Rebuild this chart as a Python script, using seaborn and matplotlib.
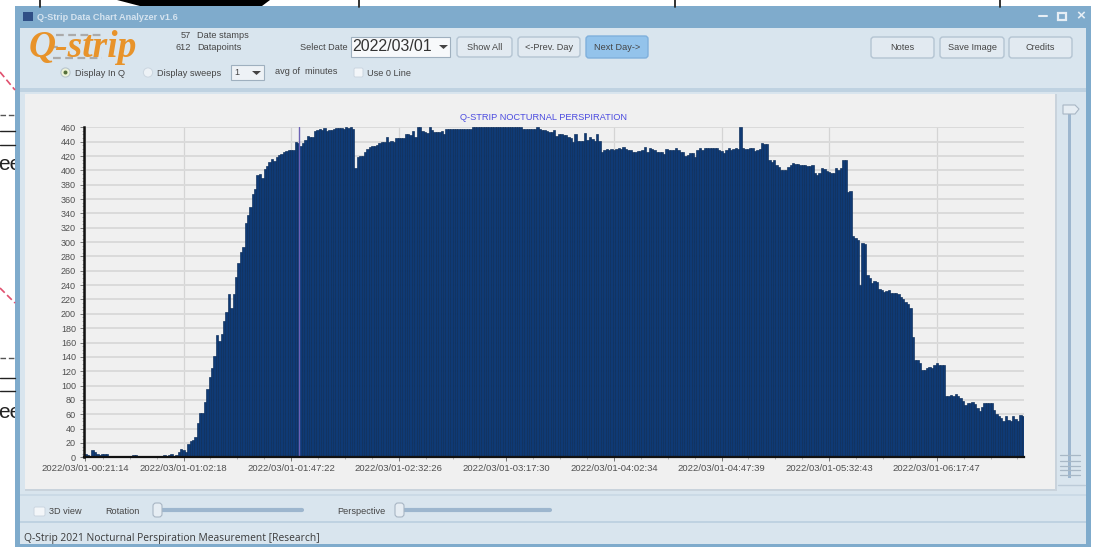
import matplotlib
matplotlib.use("Agg")
import matplotlib.pyplot as plt
import numpy as np
import seaborn as sns
from matplotlib.patches import FancyBboxPatch, Rectangle, Circle, Polygon
from matplotlib.ticker import MultipleLocator

# values, one bar per minute
rise = [5, 3, 0, 10, 8, 4, 3, 4, 5, 4, 2, 2, 1, 0, 0, 0, 0, 1, 1, 0, 3, 3,
        0, 0, 0, 0, 0, 0, 0, 0, 0, 0, 2, 3, 2, 3, 4, 1, 3,
        7, 12, 10, 8, 18, 23, 24, 28, 48, 62, 62, 77, 95, 112, 125, 141, 170, 162, 172, 190,
        202, 227, 208, 228, 252, 271, 286, 293, 327, 338, 349, 367, 374, 394, 395, 390, 402,
        406, 412, 416, 413, 418, 421, 423, 425, 427, 429, 429, 428, 439, 438, 434, 438, 442,
        448, 447, 446, 455, 456, 457, 456, 459, 455, 456, 456, 457, 459, 459, 459, 458, 460,
        459, 460, 457]
plateau = [403, 418, 420, 420, 426, 430, 432, 434, 434, 436, 438, 439, 440, 447, 439, 441,
           439, 445, 445, 445, 445, 451, 451, 449, 455, 447, 461, 461, 455, 454, 452, 461,
           456, 454, 454, 454, 455, 450, 457, 457, 457, 457, 457, 457, 457, 457, 458, 457,
           457, 460, 460, 460, 460, 460, 461, 460, 460, 460, 460, 461, 460, 460, 460, 460,
           461, 460, 460, 460, 460, 460, 458, 458, 458, 458, 458, 458, 461, 458, 456, 456,
           455, 454, 453, 456, 448, 450, 450, 449, 449, 447, 445, 440, 450, 441, 441, 441,
           452, 443, 446, 444, 441, 450, 441]
slope = [426, 429, 430, 429, 430, 429, 430, 431, 430, 433, 430, 429, 428, 426, 425, 427,
         427, 428, 433, 425, 431, 430, 429, 426, 425, 425, 423, 430, 429, 428, 429, 431,
         428, 425, 426, 420, 422, 424, 424, 418, 429, 431, 429,
         431, 431, 431, 431, 431, 431, 429, 427, 424, 428, 431, 429, 430, 431, 430, 461,
         431, 430, 430, 431, 431, 427, 428, 430, 438, 437, 437, 414, 412, 414, 408, 404,
         401, 401, 401, 404, 408, 410, 409, 409, 408, 407, 407, 406, 406, 407, 396, 394,
         396, 403, 402, 399, 398, 396, 396, 403, 400, 403, 414, 414, 370, 371]
fall = [308, 306, 303, 240, 299, 298, 254, 250, 243, 246, 244, 235, 233, 230, 232, 233,
        229, 229, 229, 228, 224, 221, 216, 214, 208, 168, 136, 136, 132, 122, 122,
        124, 126, 124, 129, 131, 129, 128, 129, 86, 86, 87, 85, 88, 85, 82, 78, 73, 75,
        75, 77, 74, 69, 65, 70, 75, 76, 76, 76, 66, 60, 58, 55, 50, 57, 52, 50,
        57, 54, 50, 59, 58]
values = rise + plateau + slope + fall
print(len(values))

major_idx = [0, 41, 86, 131, 176, 221, 266, 311, 356]
tick_labels = ["2022/03/01-00:21:14", "2022/03/01-01:02:18", "2022/03/01-01:47:22",
               "2022/03/01-02:32:26", "2022/03/01-03:17:30", "2022/03/01-04:02:34",
               "2022/03/01-04:47:39", "2022/03/01-05:32:43", "2022/03/01-06:17:47"]
marked_bar = 89

sns.set_theme(style="white")
plt.rcParams["font.family"] = ["Liberation Sans", "DejaVu Sans"]

W, H = 1099, 548
fig = plt.figure(figsize=(W / 100, H / 100), dpi=100, facecolor="white")

# window chrome, drawn in pixel coordinates
bg = fig.add_axes([0, 0, 1, 1], zorder=0)
bg.set_xlim(0, W)
bg.set_ylim(H, 0)
bg.axis("off")

FRAME = "#7FABCC"
BODY = "#D9E5EE"
PANEL = "#F0F0F0"
TXT = "#454545"


def rect(x0, y0, x1, y1, color, **kw):
    bg.add_patch(Rectangle((x0, y0), x1 - x0, y1 - y0, facecolor=color, edgecolor="none", **kw))


def label(x, y, s, size=6.6, ha="left", color=TXT, **kw):
    bg.text(x, y, s, fontsize=size, ha=ha, va="center", color=color, **kw)


def button(x0, y0, x1, y1, s, fill="#E2EAF1", edge="#B4C4D2", size=6.6):
    bg.add_patch(FancyBboxPatch((x0 + 2, y0 + 2), x1 - x0 - 4, y1 - y0 - 4,
                                boxstyle="round,pad=2,rounding_size=3",
                                facecolor=fill, edgecolor=edge, linewidth=1))
    label((x0 + x1) / 2, (y0 + y1) / 2, s, size=size, ha="center")


def checkbox(x0, y0, x1, y1):
    bg.add_patch(FancyBboxPatch((x0 + 1, y0 + 1), x1 - x0 - 2, y1 - y0 - 2,
                                boxstyle="round,pad=1,rounding_size=1.5",
                                facecolor="#F3F6F9", edgecolor="#CBD6E0", linewidth=0.7))


def hslider(x0, thumb0, x1, y):
    bg.plot([x0, x1], [y, y], color="#9DB6CE", lw=3, solid_capstyle="round")
    bg.add_patch(FancyBboxPatch((thumb0 + 1, y - 6), 7, 12, boxstyle="round,pad=1,rounding_size=3",
                                facecolor="#E6EDF3", edgecolor="#A8B6C4", linewidth=0.8, zorder=3))


# what is left of the page behind the window
for lx in [40, 359, 675, 1000]:
    bg.plot([lx, lx], [0, 7], color="#222222", lw=1.3)
bg.add_patch(Polygon([(117, 0), (270, 0), (262, 6), (140, 6)], facecolor="black", edgecolor="none"))
for y0, y1, dash_y, line_a, line_b, ee_y in [(72, 90, 115, 131, 145, 164), (288, 303, 358, 378, 391, 412)]:
    bg.plot([0, 15], [y0, y1], color="#E0506E", lw=1.2, ls=(0, (4, 2)))
    bg.plot([0, 15], [dash_y, dash_y], color="#555555", lw=1, ls=(0, (4, 2)))
    bg.plot([0, 15], [line_a, line_a], color="#222222", lw=1)
    bg.plot([0, 15], [line_b, line_b], color="#222222", lw=1)
    bg.text(-2, ee_y, "ee", fontsize=15, ha="left", va="center", color="#222222", zorder=0.5)

rect(15, 6, 1091, 547, FRAME)
rect(20, 28, 1086, 544, BODY)
rect(20, 88, 1086, 92, "#BFD2E1")
rect(25, 94, 1055, 489, PANEL)
rect(25, 489, 1055, 491, "#C9D3DC")
rect(1055, 94, 1057, 491, "#C9D3DC")
rect(20, 521, 1086, 523, "#BFD2E1")
rect(20, 494, 1086, 496, "#CBDAE6")

# title bar
rect(23, 12, 33, 21, "#2F4F86")
label(37, 17, "Q-Strip Data Chart Analyzer v1.6", size=6.6, color="#D5E3EF", fontweight="bold")
bg.plot([1039, 1047], [16, 16], color="#E6EEF5", lw=1.5)
bg.add_patch(Rectangle((1058, 12.5), 8, 7, facecolor="none", edgecolor="#E6EEF5", lw=1.6))
label(1081, 16, "\u00d7", size=11, ha="center", color="#E6EEF5", fontweight="bold")

# toolbar
for dy, dx0, dx1 in [(35, 56, 102), (47, 50, 60), (58, 53, 102)]:
    bg.plot([dx0, dx1], [dy, dy], color="#ABABAB", lw=1.6, ls=(0, (3.5, 2)))
bg.text(29, 47.5, "Q-strip", fontsize=27, family="Liberation Serif", fontweight="bold", style="italic",
        color="#E8932A", ha="left", va="center")
label(191, 36, "57", ha="right")
label(197, 36, "Date stamps")
label(191, 48, "612", ha="right")
label(197, 48, "Datapoints")
label(300, 47, "Select Date")
bg.add_patch(Rectangle((351, 37), 99, 20, facecolor="#F7F9FB", edgecolor="#9FB0BF", lw=0.8))
label(352, 46.5, "2022/03/01", size=11.5, color="#333333")
bg.add_patch(Polygon([(439, 45), (448, 45), (443.5, 49)], facecolor="#444444", edgecolor="none"))
button(457, 37, 512, 57, "Show All")
button(518, 37, 580, 57, "<-Prev. Day")
button(586, 36, 648, 58, "Next Day->", fill="#93C3EB", edge="#7FB0DC")
button(871, 37, 934, 58, "Notes")
button(940, 37, 1004, 58, "Save Image")
button(1009, 37, 1072, 58, "Credits")

bg.add_patch(Circle((65.5, 72.5), 4.6, facecolor="#EEF3D8", edgecolor="#B9C6CF", lw=0.8))
bg.add_patch(Circle((65.5, 72.5), 2, facecolor="#55703A", edgecolor="none"))
label(75, 73, "Display In Q")
bg.add_patch(Circle((148, 72.5), 4.6, facecolor="#EDF2F6", edgecolor="#CBD6E0", lw=0.7))
label(157, 73, "Display sweeps")
bg.add_patch(Rectangle((231, 65), 33, 15, facecolor="#EEF2F6", edgecolor="#9FB0BF", lw=0.8))
label(234, 72.5, "1")
bg.add_patch(Polygon([(252, 71), (261, 71), (256.5, 75)], facecolor="#444444", edgecolor="none"))
label(275, 72, "avg of  minutes")
checkbox(354, 68, 363, 77)
label(367, 73, "Use 0 Line")

# right slider
rect(1068, 112, 1071, 478, "#9DB6CE")
bg.add_patch(Polygon([(1063, 105), (1075, 105), (1079, 109), (1075, 114), (1063, 114)],
                     facecolor="#E6EDF3", edgecolor="#A8B6C4", lw=0.8))
for ty in [455, 461, 466, 470, 475]:
    bg.plot([1060, 1080], [ty, ty], color="#A8B8C6", lw=0.9)
bg.plot([1058, 1085], [485, 485], color="#BCCBD8", lw=1)

# bottom controls
checkbox(34, 507, 45, 516)
label(49, 511.5, "3D view")
label(105, 511, "Rotation")
hslider(155, 153, 302, 510)
label(337, 511, "Perspective")
hslider(397, 395, 550, 510)
label(24, 539, "Q-Strip 2021 Nocturnal Perspiration Measurement [Research]", size=7.4, color="#3A3A3A",
      family="Open Sans")

# the chart itself
left, right, top, bottom = 84.3, 1024, 126.6, 457.3
ax = fig.add_axes([left / W, 1 - bottom / H, (right - left) / W, (bottom - top) / H], zorder=1)
ax.set_facecolor(PANEL)
ax.set_axisbelow(True)

positions = np.arange(len(values))
sns.barplot(x=positions, y=values, color="#0F3A75", saturation=1, width=1,
            edgecolor="#0A2B58", linewidth=0.45, ax=ax)

ax.set_xlim(-0.5, len(values) - 0.5)
ax.set_ylim(0, 461)
ax.axvline(marked_bar + 0.5, color="#6C62B4", lw=1)

ax.yaxis.set_major_locator(MultipleLocator(20))
ax.yaxis.set_minor_locator(MultipleLocator(5))
ax.set_xticks(major_idx)
ax.set_xticklabels(tick_labels)
ax.set_xticks(np.arange(major_idx[1] - 33.75, len(values), 11.25), minor=True)
ax.set_xlabel("")
ax.set_ylabel("")

ax.grid(True, which="major", axis="y", color="#DADADA", lw=1.4)
ax.grid(True, which="major", axis="x", color="#D4D4D4", lw=0.9)
ax.tick_params(axis="x", which="major", labelsize=6.8, labelcolor="#505050", color="#777777",
               length=3, width=0.7, pad=1.5, bottom=True)
ax.tick_params(axis="y", which="major", labelsize=6.5, labelcolor="#505050", color="#777777",
               length=3, width=0.7, pad=3, left=True)
ax.tick_params(axis="both", which="minor", color="#999999", length=1.5, width=0.5, bottom=True, left=True)

for side in ["top", "right"]:
    ax.spines[side].set_visible(False)
ax.spines["left"].set_color("#111111")
ax.spines["left"].set_linewidth(1.8)
ax.spines["bottom"].set_color("#111111")
ax.spines["bottom"].set_linewidth(1.6)

ax.set_title("Q-STRIP NOCTURNAL PERSPIRATION", fontsize=6.7, color="#4C4CE0", pad=5, x=0.489)

fig.savefig("out.png", dpi=100)
plt.close()
